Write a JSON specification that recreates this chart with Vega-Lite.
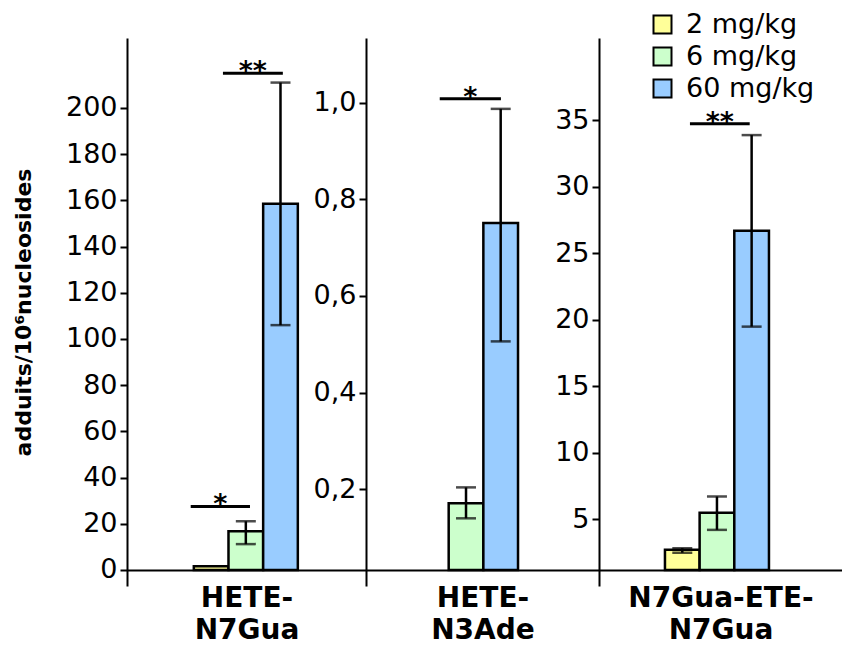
{
  "$schema": "https://vega.github.io/schema/vega-lite/v6.json",
  "background": "white",
  "padding": {"left": 12, "top": 11, "right": 0, "bottom": 0},
  "spacing": 0,
  "bounds": "flush",
  "datasets": {
    "bars": [
      {"compound": "HETE-N7Gua", "dose": "2 mg/kg", "mean": 1.6, "low": null, "high": null},
      {"compound": "HETE-N7Gua", "dose": "6 mg/kg", "mean": 16.8, "low": 11.2, "high": 21.1},
      {"compound": "HETE-N7Gua", "dose": "60 mg/kg", "mean": 158.6, "low": 106, "high": 211},
      {"compound": "HETE-N3Ade", "dose": "6 mg/kg", "mean": 0.171, "low": 0.140, "high": 0.204},
      {"compound": "HETE-N3Ade", "dose": "60 mg/kg", "mean": 0.751, "low": 0.506, "high": 0.987},
      {"compound": "N7Gua-ETE-N7Gua", "dose": "2 mg/kg", "mean": 2.72, "low": 2.5, "high": 2.84},
      {"compound": "N7Gua-ETE-N7Gua", "dose": "6 mg/kg", "mean": 5.5, "low": 4.22, "high": 6.73},
      {"compound": "N7Gua-ETE-N7Gua", "dose": "60 mg/kg", "mean": 26.7, "low": 19.5, "high": 33.9}
    ],
    "sig": [
      {"compound": "HETE-N7Gua", "pair": "2-6", "y": 27.5, "stars": "*"},
      {"compound": "HETE-N7Gua", "pair": "6-60", "y": 215, "stars": "**"},
      {"compound": "HETE-N3Ade", "pair": "6-60", "y": 1.008, "stars": "*"},
      {"compound": "N7Gua-ETE-N7Gua", "pair": "6-60", "y": 34.75, "stars": "**"}
    ]
  },
  "config": {
    "view": {"stroke": null},
    "font": "DejaVu Sans",
    "axis": {
      "domainColor": "black", "domainWidth": 2, "tickColor": "black", "tickWidth": 2, "tickSize": 7,
      "labelColor": "black", "labelFont": "DejaVu Sans", "labelFontSize": 27, "labelPadding": 3,
      "grid": false, "titleColor": "black", "titleFont": "DejaVu Sans", "titleFontWeight": "bold"
    },
    "axisX": {"labels": false, "ticks": false, "offset": -16, "titleFontSize": 28, "titleLineHeight": 32, "titlePadding": 14},
    "axisY": {"titleFontSize": 22, "titlePadding": 30}
  },
  "resolve": {"scale": {"color": "shared", "x": "independent", "y": "independent"}, "legend": {"color": "shared"}},
  "hconcat": [
    {
      "width": 239, "height": 548,
      "layer": [
        {
          "data": {"name": "bars"},
          "transform": [{"filter": "datum.compound === 'HETE-N7Gua'"}],
          "mark": {"type": "bar", "stroke": "black", "strokeWidth": 2.5},
          "encoding": {
            "x": {"field": "compound", "type": "nominal", "title": ["HETE-", "N7Gua"],
                  "scale": {"paddingInner": 0, "paddingOuter": 0.649, "align": 0.495}},
            "xOffset": {"field": "dose", "type": "nominal", "scale": {"domain": ["2 mg/kg", "6 mg/kg", "60 mg/kg"], "paddingInner": 0, "paddingOuter": 0}},
            "y": {"field": "mean", "type": "quantitative", "title": "adduits/10⁶nucleosides",
                  "scale": {"domain": [-6.93, 230.3], "nice": false, "zero": false},
                  "axis": {"values": [0, 20, 40, 60, 80, 100, 120, 140, 160, 180, 200]}},
            "y2": {"datum": 0},
            "color": {"field": "dose", "type": "nominal",
                      "scale": {"domain": ["2 mg/kg", "6 mg/kg", "60 mg/kg"], "range": ["#FFFF99", "#CCFFCC", "#99CCFF"]},
                      "legend": {"orient": "none", "legendX": 522, "legendY": -27, "title": null, "padding": 0,
                                 "symbolType": "square", "symbolSize": 324, "symbolStrokeColor": "black", "symbolStrokeWidth": 2,
                                 "symbolOpacity": 1, "labelFontSize": 27, "labelFont": "DejaVu Sans", "labelColor": "black",
                                 "rowPadding": 4, "labelOffset": 10}}
          }
        },
        {
          "data": {"name": "bars"},
          "transform": [{"filter": "datum.compound === 'HETE-N7Gua' && isValid(datum.low)"}],
          "mark": {"type": "rule", "color": "black", "strokeWidth": 2.5},
          "encoding": {
            "x": {"field": "compound", "type": "nominal", "title": ["HETE-", "N7Gua"]},
            "xOffset": {"field": "dose", "type": "nominal"},
            "y": {"field": "low", "type": "quantitative", "title": "adduits/10⁶nucleosides"},
            "y2": {"field": "high"}
          }
        },
        {
          "data": {"name": "bars"},
          "transform": [{"filter": "datum.compound === 'HETE-N7Gua' && isValid(datum.low)"}],
          "mark": {"type": "tick", "color": "black", "size": 20, "thickness": 2.5},
          "encoding": {
            "x": {"field": "compound", "type": "nominal", "title": ["HETE-", "N7Gua"]},
            "xOffset": {"field": "dose", "type": "nominal"},
            "y": {"field": "low", "type": "quantitative", "title": "adduits/10⁶nucleosides"}
          }
        },
        {
          "data": {"name": "bars"},
          "transform": [{"filter": "datum.compound === 'HETE-N7Gua' && isValid(datum.low)"}],
          "mark": {"type": "tick", "color": "black", "size": 20, "thickness": 2.5},
          "encoding": {
            "x": {"field": "compound", "type": "nominal", "title": ["HETE-", "N7Gua"]},
            "xOffset": {"field": "dose", "type": "nominal"},
            "y": {"field": "high", "type": "quantitative", "title": "adduits/10⁶nucleosides"}
          }
        },
        {
          "data": {"name": "sig"},
          "transform": [{"filter": "datum.compound === 'HETE-N7Gua' && datum.pair === '2-6'"}],
          "layer": [
            {
              "mark": {"type": "rule", "color": "black", "strokeWidth": 3},
              "encoding": {
                "x": {"field": "compound", "type": "nominal", "bandPosition": -0.03, "title": ["HETE-", "N7Gua"]},
                "x2": {"field": "compound", "bandPosition": 0.54},
                "y": {"field": "y", "type": "quantitative", "title": "adduits/10⁶nucleosides"}
              }
            },
            {
              "mark": {"type": "text", "fontSize": 27, "fontWeight": "bold", "baseline": "alphabetic", "dy": 7, "color": "black"},
              "encoding": {
                "x": {"field": "compound", "type": "nominal", "bandPosition": 0.255, "title": ["HETE-", "N7Gua"]},
                "y": {"field": "y", "type": "quantitative", "title": "adduits/10⁶nucleosides"},
                "text": {"field": "stars"}
              }
            }
          ]
        },
        {
          "data": {"name": "sig"},
          "transform": [{"filter": "datum.compound === 'HETE-N7Gua' && datum.pair === '6-60'"}],
          "layer": [
            {
              "mark": {"type": "rule", "color": "black", "strokeWidth": 3},
              "encoding": {
                "x": {"field": "compound", "type": "nominal", "bandPosition": 0.28, "title": ["HETE-", "N7Gua"]},
                "x2": {"field": "compound", "bandPosition": 0.856},
                "y": {"field": "y", "type": "quantitative", "title": "adduits/10⁶nucleosides"}
              }
            },
            {
              "mark": {"type": "text", "fontSize": 27, "fontWeight": "bold", "baseline": "alphabetic", "dy": 7, "color": "black"},
              "encoding": {
                "x": {"field": "compound", "type": "nominal", "bandPosition": 0.567, "title": ["HETE-", "N7Gua"]},
                "y": {"field": "y", "type": "quantitative", "title": "adduits/10⁶nucleosides"},
                "text": {"field": "stars"}
              }
            }
          ]
        }
      ]
    },
    {
      "width": 233, "height": 548,
      "layer": [
        {
          "data": {"name": "bars"},
          "transform": [{"filter": "datum.compound === 'HETE-N3Ade'"}],
          "mark": {"type": "bar", "stroke": "black", "strokeWidth": 2.5},
          "encoding": {
            "x": {"field": "compound", "type": "nominal", "title": ["HETE-", "N3Ade"],
                  "scale": {"paddingInner": 0, "paddingOuter": 0.61, "align": 0.375}},
            "xOffset": {"field": "dose", "type": "nominal", "scale": {"domain": ["2 mg/kg", "6 mg/kg", "60 mg/kg"], "paddingInner": 0, "paddingOuter": 0}},
            "y": {"field": "mean", "type": "quantitative", "title": null,
                  "scale": {"domain": [0, 1.1336], "nice": false, "zero": false},
                  "axis": {"values": [0.2, 0.4, 0.6, 0.8, 1.0], "labelExpr": "replace(format(datum.value, '.1f'), '.', ',')"}},
            "y2": {"datum": 0.033},
            "color": {"field": "dose", "type": "nominal"}
          }
        },
        {
          "data": {"name": "bars"},
          "transform": [{"filter": "datum.compound === 'HETE-N3Ade' && isValid(datum.low)"}],
          "mark": {"type": "rule", "color": "black", "strokeWidth": 2.5},
          "encoding": {
            "x": {"field": "compound", "type": "nominal", "title": ["HETE-", "N3Ade"]},
            "xOffset": {"field": "dose", "type": "nominal"},
            "y": {"field": "low", "type": "quantitative", "title": null},
            "y2": {"field": "high"}
          }
        },
        {
          "data": {"name": "bars"},
          "transform": [{"filter": "datum.compound === 'HETE-N3Ade' && isValid(datum.low)"}],
          "mark": {"type": "tick", "color": "black", "size": 20, "thickness": 2.5},
          "encoding": {
            "x": {"field": "compound", "type": "nominal", "title": ["HETE-", "N3Ade"]},
            "xOffset": {"field": "dose", "type": "nominal"},
            "y": {"field": "low", "type": "quantitative", "title": null}
          }
        },
        {
          "data": {"name": "bars"},
          "transform": [{"filter": "datum.compound === 'HETE-N3Ade' && isValid(datum.low)"}],
          "mark": {"type": "tick", "color": "black", "size": 20, "thickness": 2.5},
          "encoding": {
            "x": {"field": "compound", "type": "nominal", "title": ["HETE-", "N3Ade"]},
            "xOffset": {"field": "dose", "type": "nominal"},
            "y": {"field": "high", "type": "quantitative", "title": null}
          }
        },
        {
          "data": {"name": "sig"},
          "transform": [{"filter": "datum.compound === 'HETE-N3Ade'"}],
          "layer": [
            {
              "mark": {"type": "rule", "color": "black", "strokeWidth": 3},
              "encoding": {
                "x": {"field": "compound", "type": "nominal", "bandPosition": 0.245, "title": ["HETE-", "N3Ade"]},
                "x2": {"field": "compound", "bandPosition": 0.828},
                "y": {"field": "y", "type": "quantitative", "title": null}
              }
            },
            {
              "mark": {"type": "text", "fontSize": 27, "fontWeight": "bold", "baseline": "alphabetic", "dy": 7, "color": "black"},
              "encoding": {
                "x": {"field": "compound", "type": "nominal", "bandPosition": 0.536, "title": ["HETE-", "N3Ade"]},
                "y": {"field": "y", "type": "quantitative", "title": null},
                "text": {"field": "stars"}
              }
            }
          ]
        }
      ]
    },
    {
      "width": 243, "height": 548,
      "layer": [
        {
          "data": {"name": "bars"},
          "transform": [{"filter": "datum.compound === 'N7Gua-ETE-N7Gua'"}],
          "mark": {"type": "bar", "stroke": "black", "strokeWidth": 2.5},
          "encoding": {
            "x": {"field": "compound", "type": "nominal", "title": ["N7Gua-ETE-", "N7Gua"],
                  "scale": {"paddingInner": 0, "paddingOuter": 0.657, "align": 0.478}},
            "xOffset": {"field": "dose", "type": "nominal", "scale": {"domain": ["2 mg/kg", "6 mg/kg", "60 mg/kg"], "paddingInner": 0, "paddingOuter": 0}},
            "y": {"field": "mean", "type": "quantitative", "title": null,
                  "scale": {"domain": [0, 41.2], "nice": false, "zero": false},
                  "axis": {"values": [5, 10, 15, 20, 25, 30, 35]}},
            "y2": {"datum": 1.2},
            "color": {"field": "dose", "type": "nominal"}
          }
        },
        {
          "data": {"name": "bars"},
          "transform": [{"filter": "datum.compound === 'N7Gua-ETE-N7Gua' && isValid(datum.low)"}],
          "mark": {"type": "rule", "color": "black", "strokeWidth": 2.5},
          "encoding": {
            "x": {"field": "compound", "type": "nominal", "title": ["N7Gua-ETE-", "N7Gua"]},
            "xOffset": {"field": "dose", "type": "nominal"},
            "y": {"field": "low", "type": "quantitative", "title": null},
            "y2": {"field": "high"}
          }
        },
        {
          "data": {"name": "bars"},
          "transform": [{"filter": "datum.compound === 'N7Gua-ETE-N7Gua' && isValid(datum.low)"}],
          "mark": {"type": "tick", "color": "black", "size": 20, "thickness": 2.5},
          "encoding": {
            "x": {"field": "compound", "type": "nominal", "title": ["N7Gua-ETE-", "N7Gua"]},
            "xOffset": {"field": "dose", "type": "nominal"},
            "y": {"field": "low", "type": "quantitative", "title": null}
          }
        },
        {
          "data": {"name": "bars"},
          "transform": [{"filter": "datum.compound === 'N7Gua-ETE-N7Gua' && isValid(datum.low)"}],
          "mark": {"type": "tick", "color": "black", "size": 20, "thickness": 2.5},
          "encoding": {
            "x": {"field": "compound", "type": "nominal", "title": ["N7Gua-ETE-", "N7Gua"]},
            "xOffset": {"field": "dose", "type": "nominal"},
            "y": {"field": "high", "type": "quantitative", "title": null}
          }
        },
        {
          "data": {"name": "sig"},
          "transform": [{"filter": "datum.compound === 'N7Gua-ETE-N7Gua'"}],
          "layer": [
            {
              "mark": {"type": "rule", "color": "black", "strokeWidth": 3},
              "encoding": {
                "x": {"field": "compound", "type": "nominal", "bandPosition": 0.238, "title": ["N7Gua-ETE-", "N7Gua"]},
                "x2": {"field": "compound", "bandPosition": 0.807},
                "y": {"field": "y", "type": "quantitative", "title": null}
              }
            },
            {
              "mark": {"type": "text", "fontSize": 27, "fontWeight": "bold", "baseline": "alphabetic", "dy": 7, "color": "black"},
              "encoding": {
                "x": {"field": "compound", "type": "nominal", "bandPosition": 0.523, "title": ["N7Gua-ETE-", "N7Gua"]},
                "y": {"field": "y", "type": "quantitative", "title": null},
                "text": {"field": "stars"}
              }
            }
          ]
        }
      ]
    }
  ]
}
